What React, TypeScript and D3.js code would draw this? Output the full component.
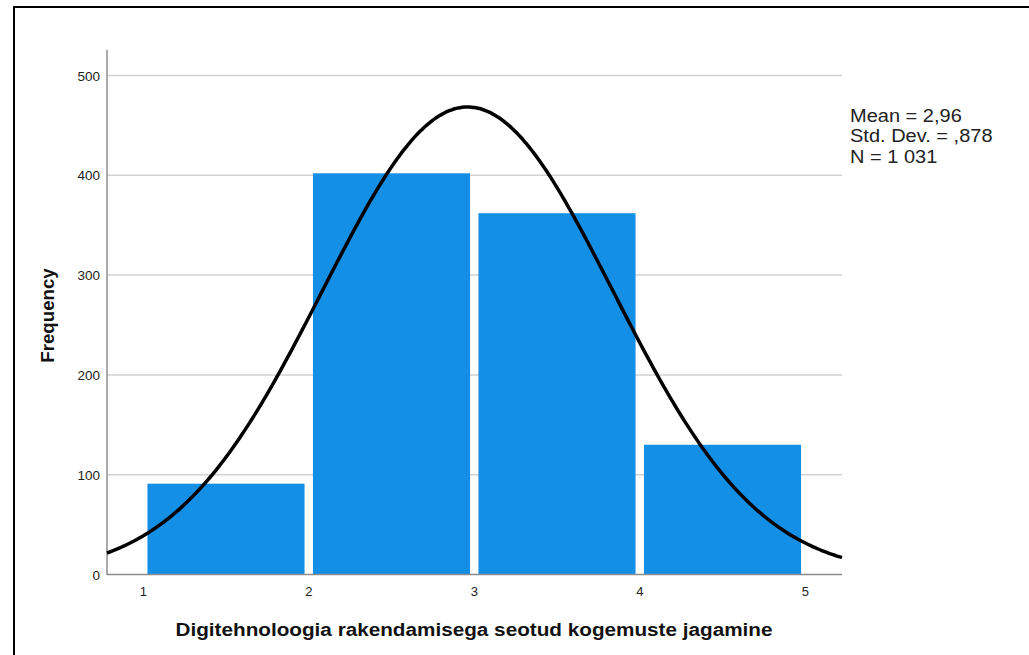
import React from "react";
import * as d3 from "d3";

const binStarts = [1, 2, 3, 4];
const binWidth = 1;
const frequencies = [91, 402, 362, 130];
const xTicks = [1, 2, 3, 4, 5];
const yTicks = [0, 100, 200, 300, 400, 500];
const mean = 2.96;
const stdDev = 0.878;
const nTotal = 1031;
const statLines = ["Mean = 2,96", "Std. Dev. = ,878", "N = 1 031"];
const xTitle = "Digitehnoloogia rakendamisega seotud kogemuste jagamine";
const yTitle = "Frequency";

const W = 1029;
const H = 655;

export default function App() {
  const x = d3.scaleLinear().domain([0.781, 5.222]).range([107, 842]);
  const y = d3.scaleLinear().domain([0, 500]).range([574.5, 75.5]);
  const [x0, x1] = x.domain();

  const curvePts = d3.range(0, 301).map((i) => {
    const v = x0 + ((x1 - x0) * i) / 300;
    const z = (v - mean) / stdDev;
    const f = (nTotal * binWidth * Math.exp(-0.5 * z * z)) / (stdDev * Math.sqrt(2 * Math.PI));
    return [v, f] as [number, number];
  });
  const line = d3
    .line<[number, number]>()
    .x((d) => x(d[0]))
    .y((d) => y(d[1]))
    .curve(d3.curveBasis);

  const inset = 4.2;
  const font = "Arial, 'Liberation Sans', sans-serif";

  return (
    <svg
      width={W}
      height={H}
      style={{ position: "absolute", left: 0, top: 0, background: "#fff" }}
      fontFamily={font}
    >
      <rect x={0} y={0} width={W} height={H} fill="#fff" />
      <rect x={14} y={7} width={1040} height={700} fill="none" stroke="#000" strokeWidth={2} />
      {/* gridlines */}
      {yTicks
        .filter((t) => t > 0)
        .map((t) => (
          <line key={t} x1={107} x2={842} y1={y(t)} y2={y(t)} stroke="#d2d2d2" strokeWidth={1.5} />
        ))}
      {/* bars */}
      {binStarts.map((b, i) => (
        <rect
          key={b}
          x={x(b) + inset}
          y={y(frequencies[i])}
          width={x(b + binWidth) - x(b) - 2 * inset}
          height={y(0) - y(frequencies[i])}
          fill="#148fe6"
        />
      ))}
      {/* axes */}
      <line x1={107} x2={107} y1={50} y2={575} stroke="#8c8c8c" strokeWidth={1.5} />
      <line x1={107} x2={842} y1={574.5} y2={574.5} stroke="#8c8c8c" strokeWidth={1.5} />
      {yTicks.map((t) => (
        <text key={t} x={100} y={y(t) + 5} textAnchor="end" fontSize={13.5} fill="#222">
          {t}
        </text>
      ))}
      {xTicks.map((t) => (
        <text key={t} x={x(t)} y={596} textAnchor="middle" fontSize={13} fill="#222">
          {t}
        </text>
      ))}
      {/* normal curve */}
      <path d={line(curvePts) || ""} fill="none" stroke="#000" strokeWidth={3.5} />
      {/* titles */}
      <text
        x={474}
        y={635.5}
        textAnchor="middle"
        fontSize={18.7}
        fontWeight="bold"
        fill="#111"
        textLength={597}
        lengthAdjust="spacingAndGlyphs"
      >
        {xTitle}
      </text>
      <text
        transform={`translate(53.5,315.5) rotate(-90)`}
        textAnchor="middle"
        fontSize={18.7}
        fontWeight="bold"
        fill="#111"
      >
        {yTitle}
      </text>
      <g transform="translate(850,0) scale(1.07,1)">
        {statLines.map((s, i) => (
          <text key={s} x={0} y={121.7 + i * 20.5} fontSize={18.7} fill="#222">
            {s}
          </text>
        ))}
      </g>
    </svg>
  );
}
